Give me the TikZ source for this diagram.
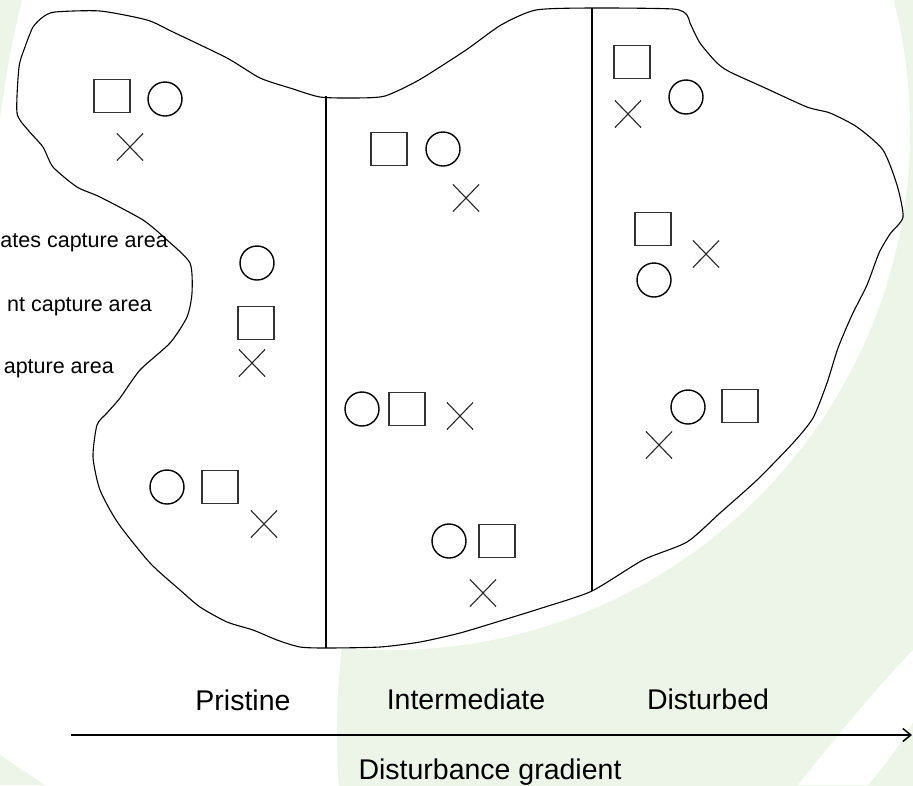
\documentclass[tikz,border=0pt]{standalone}
\usepackage{fontspec}
\setmainfont{Liberation Sans}
\usetikzlibrary{shapes.misc,arrows.meta}
\definecolor{bggreen}{RGB}{237,245,232}
\begin{document}
\begin{tikzpicture}[x=1pt,y=-1pt,
  sq/.style={draw=black!80, line width=1.3pt, minimum width=36pt, minimum height=33pt, inner sep=0pt},
  circ/.style={draw=black, circle, line width=1.4pt, minimum size=34pt, inner sep=0pt},
  crs/.style={draw=black!85, cross out, line width=1.1pt, minimum width=25pt, minimum height=26pt, inner sep=0pt},
  lab/.style={font=\fontsize{28.5}{32}\selectfont, inner sep=0pt, anchor=base},
  side/.style={font=\fontsize{21.5}{26}\selectfont, inner sep=0pt, anchor=base east},
  outline/.style={draw=black, line width=1.1pt, fill=white},
  divider/.style={draw=black, line width=1.6pt}]
\useasboundingbox (0,0) rectangle (913,785);
% background
\fill[white] (0,0) rectangle (913,785);
\begin{scope}
\clip (0,0) rectangle (913,785);
\fill[bggreen] (1100,733) circle[radius=763pt];
\fill[white] (390,130) circle[radius=520pt];
\fill[white] (913,650) .. controls (870,695) and (830,745) .. (798,785) -- (868,785) .. controls (885,765) and (900,745) .. (913,722) -- cycle;
\fill[bggreen] (0,0) -- (22,0) .. controls (12,40) and (5,80) .. (0,120) -- cycle;
\fill[bggreen] (0,755) .. controls (15,765) and (30,775) .. (45,785) -- (0,785) -- cycle;
\end{scope}
% habitat outline
\draw[outline] plot[smooth cycle, tension=0.4] coordinates {
(55,12) (100,11) (147,20) (173,32) (227,58) (260,78) (290,88) (320,97) (355,98) (385,96)
(419,80) (466,50) (501,25) (536,10) (592,8) (673,9) (687,15) (690,23) (700,43) (717,63)
(730,72) (763,87) (807,107) (830,113) (857,127) (883,150) (897,185) (903,217) (890,234)
(879,253) (867,285) (852,315) (838,348) (827,383) (813,418) (793,443) (757,480) (720,513)
(687,542) (643,560) (592,591) (545,607) (500,621) (460,633) (420,642) (380,647) (326,648)
(300,647) (277,640) (253,630) (227,622) (200,607) (180,590) (150,563) (118,523) (100,490)
(93,457) (97,425) (107,413) (120,398) (140,370) (170,343) (187,317) (192,293) (190,263)
(167,240) (143,220) (100,197) (77,187) (53,167) (43,147) (28,130) (17,113) (19,67)
(25,47) (33,27) (43,17)};
% dividers
\coordinate (d1t) at (326,96);
\coordinate (d1b) at (326,648);
\coordinate (d2t) at (592,8);
\coordinate (d2b) at (592,591);
\draw[divider] (d1t) -- (d1b);
\draw[divider] (d2t) -- (d2b);
% pristine
\node[sq]   (p1s) at (112,96) {};
\node[circ] (p1c) at (165,99) {};
\node[crs]  (p1x) at (130,147) {};
\node[circ] (p2c) at (257,263) {};
\node[sq]   (p2s) at (256,323) {};
\node[crs]  (p2x) at (252,363) {};
\node[circ] (p3c) at (167,487) {};
\node[sq]   (p3s) at (220,487) {};
\node[crs]  (p3x) at (264,524) {};
% intermediate
\node[sq]   (i1s) at (389,149) {};
\node[circ] (i1c) at (443,149) {};
\node[crs]  (i1x) at (466,198) {};
\node[circ] (i2c) at (362,409) {};
\node[sq]   (i2s) at (407,409) {};
\node[crs]  (i2x) at (460,416) {};
\node[circ] (i3c) at (449,541) {};
\node[sq]   (i3s) at (497,541) {};
\node[crs]  (i3x) at (483,593) {};
% disturbed
\node[sq]   (u1s) at (632,62) {};
\node[circ] (u1c) at (686,97) {};
\node[crs]  (u1x) at (628,114) {};
\node[sq]   (u2s) at (653,229) {};
\node[crs]  (u2x) at (706,254) {};
\node[circ] (u2c) at (654,280) {};
\node[circ] (u3c) at (688,407) {};
\node[sq]   (u3s) at (740,406) {};
\node[crs]  (u3x) at (659,445) {};
% side texts
\node[side] (t1) at (168,247) {ates capture area};
\node[side] (t2) at (152,311) {nt capture area};
\node[side] (t3) at (114,373) {apture area};
% bottom labels
\node[lab] (lp) at (243,710) {Pristine};
\node[lab] (li) at (466,709) {Intermediate};
\node[lab] (ld) at (708,709) {Disturbed};
\node[lab] (lg) at (490,779) {Disturbance gradient};
% gradient arrow
\coordinate (gs) at (71,735);
\coordinate (ge) at (912,735);
\draw[line width=1.4pt, -{Straight Barb[length=8pt,width=13pt,line width=1.5pt]}] (gs) -- (ge);
\end{tikzpicture}
\end{document}
